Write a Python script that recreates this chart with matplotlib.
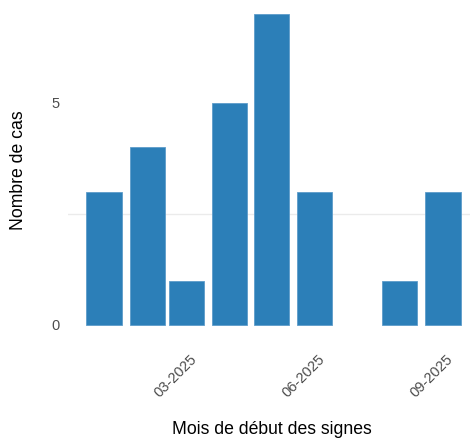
import matplotlib
matplotlib.use("Agg")
import matplotlib.pyplot as plt
import matplotlib.dates as mdates
import matplotlib.transforms as mtransforms
import numpy as np
import datetime as dt

months = ["2025-01", "2025-02", "2025-03", "2025-04", "2025-05",
          "2025-06", "2025-07", "2025-08", "2025-09"]
counts = [3, 4, 1, 5, 7, 3, 0, 1, 3]
tick_months = ["2025-03", "2025-06", "2025-09"]
tick_labels = ["03-2025", "06-2025", "09-2025"]
y_ticks = [0, 5]

plt.rcParams['font.family'] = ['Liberation Sans', 'DejaVu Sans']

def to_num(m):
    return mdates.date2num(dt.datetime.strptime(m + "-01", "%Y-%m-%d"))

x = np.array([to_num(m) for m in months])

fig = plt.figure(figsize=(4.70, 4.41), dpi=100)
ax = fig.add_axes([68 / 470, (441 - 340.5) / 441, 402 / 470, 340.5 / 441])

lw = [0.6 if c > 0 else 0 for c in counts]
ax.bar(x, counts, width=25.2, color="#2c7fb8", edgecolor="#5d9cca",
       linewidth=lw, zorder=3)

x0 = to_num("2025-01")
ax.set_xlim(x0 - 25.8, x0 + 262.4)
ax.set_ylim(-0.35, 7.32)

ax.set_yticks(y_ticks)
ax.set_yticklabels([str(v) for v in y_ticks])
ax.set_yticks([2.5], minor=True)
ax.yaxis.grid(True, which="minor", color="#ebebeb", linewidth=1.0, zorder=0)
ax.yaxis.grid(False, which="major")
ax.tick_params(axis="y", which="both", length=0, pad=6,
               labelsize=10.5, labelcolor="#4d4d4d")

ax.set_xticks([to_num(m) for m in tick_months])
ax.set_xticklabels(tick_labels, rotation=45, ha="right", va="top",
                   rotation_mode="anchor")
ax.tick_params(axis="x", length=0, pad=0, labelsize=10.5, labelcolor="#4d4d4d")
offset = mtransforms.ScaledTranslation(3 / 100, -12 / 100, fig.dpi_scale_trans)
for lab in ax.get_xticklabels():
    lab.set_transform(lab.get_transform() + offset)

for s in ax.spines.values():
    s.set_visible(False)

fig.text(272 / 470, 1 - 430 / 441, "Mois de début des signes", ha="center",
         va="center", fontsize=12.7, color="black")
fig.text(19 / 470, 1 - 170 / 441, "Nombre de cas", ha="center", va="center",
         rotation=90, fontsize=12.7, color="black")

fig.savefig("out.png", dpi=100)
